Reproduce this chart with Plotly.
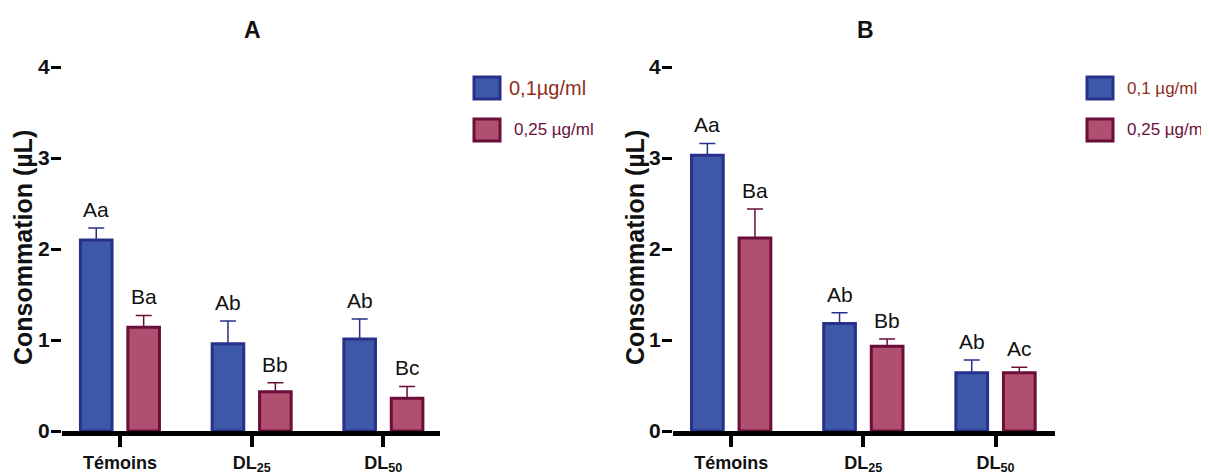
import plotly.graph_objects as go

# The page body adds an 8px margin; the figure is sized to fit the 1209x474 window.
OFF = 8
W, H = 1209 - OFF, 474 - OFF

categories = ["Témoins", "DL<sub>25</sub>", "DL<sub>50</sub>"]
series_names = ["0,1µg/ml", "0,25 µg/ml"]
series_names_b = ["0,1 µg/ml", "0,25 µg/ml"]

# Panel A values
a_low = [2.10, 0.96, 1.01]
a_low_err = [0.13, 0.25, 0.22]
a_high = [1.14, 0.43, 0.36]
a_high_err = [0.13, 0.10, 0.13]
a_low_labels = ["Aa", "Ab", "Ab"]
a_high_labels = ["Ba", "Bb", "Bc"]

# Panel B values
b_low = [3.03, 1.18, 0.64]
b_low_err = [0.13, 0.12, 0.14]
b_high = [2.12, 0.93, 0.64]
b_high_err = [0.32, 0.08, 0.06]
b_low_labels = ["Aa", "Ab", "Ab"]
b_high_labels = ["Ba", "Bb", "Ac"]

y_ticks = [0, 1, 2, 3, 4]

BLUE_FILL = "#3D58A6"
BLUE_LINE = "#27308A"
PINK_FILL = "#B04F70"
PINK_LINE = "#6B0E3A"
LEG1_TXT = "#8E2F1E"
LEG2_TXT = "#6B1040"

NARROW = "Liberation Sans Narrow, Arial Narrow, Liberation Sans, Arial, sans-serif"
SANS = "Liberation Sans, Arial, sans-serif"

def px_x(p):
    return (p - OFF) / W

def px_y(p):
    return 1 - (p - OFF) / H

fig = go.Figure()
xs = list(range(len(categories)))
BW = 0.24

panels = [
    ("x", "y", a_low, a_low_err, a_high, a_high_err, a_low_labels, a_high_labels),
    ("x2", "y2", b_low, b_low_err, b_high, b_high_err, b_low_labels, b_high_labels),
]

for xa, ya, lo, loe, hi, hie, lol, hil in panels:
    fig.add_trace(go.Bar(
        x=xs, y=lo, width=BW, offset=-0.30, xaxis=xa, yaxis=ya,
        marker=dict(color=BLUE_FILL, line=dict(color=BLUE_LINE, width=3)),
        error_y=dict(type="data", array=loe, arrayminus=[0] * len(lo), symmetric=False,
                     color=BLUE_LINE, thickness=1.5, width=8),
        showlegend=False))
    fig.add_trace(go.Bar(
        x=xs, y=hi, width=BW, offset=0.06, xaxis=xa, yaxis=ya,
        marker=dict(color=PINK_FILL, line=dict(color=PINK_LINE, width=3)),
        error_y=dict(type="data", array=hie, arrayminus=[0] * len(hi), symmetric=False,
                     color=PINK_LINE, thickness=1.5, width=8),
        showlegend=False))
    for i in xs:
        fig.add_annotation(x=i - 0.18, y=lo[i] + loe[i], xref=xa, yref=ya, text=lol[i],
                           showarrow=False, yanchor="bottom", yshift=5,
                           font=dict(family=NARROW, size=21, color="#111111"))
        fig.add_annotation(x=i + 0.18, y=hi[i] + hie[i], xref=xa, yref=ya, text=hil[i],
                           showarrow=False, yanchor="bottom", yshift=5,
                           font=dict(family=NARROW, size=21, color="#111111"))

ydom = [px_y(431), px_y(67)]
common_x = dict(tickmode="array", tickvals=xs, ticktext=categories, showline=True,
                linewidth=5, linecolor="black", ticks="outside", ticklen=11, tickwidth=4,
                tickcolor="black", showgrid=False, zeroline=False, automargin=False,
                tickfont=dict(family=NARROW, size=18, color="#111111", weight="bold"))
common_y = dict(range=[0, 4], tickvals=y_ticks, showline=False, ticks="outside", ticklen=10,
                tickwidth=3, tickcolor="black", showgrid=False, zeroline=False,
                ticklabelstandoff=-3, automargin=False,
                tickfont=dict(family=NARROW, size=21, color="#111111", weight="bold"))

fig.update_layout(
    width=W, height=H, autosize=False,
    margin=dict(l=0, r=0, t=0, b=0, autoexpand=False),
    paper_bgcolor="white", plot_bgcolor="white",
    barmode="overlay", showlegend=False,
    xaxis=dict(domain=[px_x(62), px_x(440)], range=[-0.44, 2.43], anchor="y", **common_x),
    yaxis=dict(domain=ydom, anchor="x", **common_y),
    xaxis2=dict(domain=[px_x(673), px_x(1055)], range=[-0.44, 2.45], anchor="y2", **common_x),
    yaxis2=dict(domain=ydom, anchor="x2", **common_y),
)

# Panel titles
for txt, cx in [("A", 253), ("B", 865)]:
    fig.add_annotation(x=px_x(cx), y=px_y(30), xref="paper", yref="paper", text=txt,
                       showarrow=False,
                       font=dict(family=SANS, size=23, color="#111111", weight="bold"),
                       xanchor="center", yanchor="middle")

# Y axis titles
for cx in [23, 635]:
    fig.add_annotation(x=px_x(cx), y=px_y(248), xref="paper", yref="paper",
                       text="Consommation (µL)", textangle=-90, showarrow=False,
                       font=dict(family=SANS, size=25, color="#111111", weight="bold"),
                       xanchor="center", yanchor="middle")

# Legends (swatches + text)
legends = [
    (474, 507, 512, series_names, 20),
    (1087, 1125, 1125, series_names_b, 17),
]
for sx, tx1, tx2, names, fs1 in legends:
    fig.add_shape(type="rect", xref="paper", yref="paper",
                  x0=px_x(sx), x1=px_x(sx + 26), y0=px_y(99), y1=px_y(77),
                  fillcolor=BLUE_FILL, line=dict(color=BLUE_LINE, width=3))
    fig.add_shape(type="rect", xref="paper", yref="paper",
                  x0=px_x(sx), x1=px_x(sx + 26), y0=px_y(141), y1=px_y(119),
                  fillcolor=PINK_FILL, line=dict(color=PINK_LINE, width=3))
    fig.add_annotation(x=px_x(tx1), y=px_y(88), xref="paper", yref="paper", text=names[0],
                       showarrow=False, xanchor="left", yanchor="middle",
                       font=dict(family=NARROW, size=fs1, color=LEG1_TXT))
    fig.add_annotation(x=px_x(tx2), y=px_y(130), xref="paper", yref="paper", text=names[1],
                       showarrow=False, xanchor="left", yanchor="middle",
                       font=dict(family=NARROW, size=17, color=LEG2_TXT))

fig.write_html("out.html")
